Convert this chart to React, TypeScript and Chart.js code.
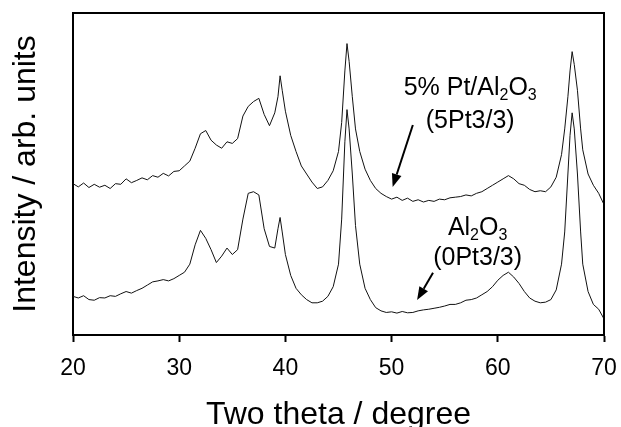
import React, { useEffect, useRef } from "react";
import { Chart, registerables } from "chart.js";

Chart.register(...registerables);

const twoTheta = [
  20, 20.5, 21, 21.5, 22, 22.5, 23, 23.5, 24, 24.5,
  25, 25.5, 26, 26.5, 27, 27.5, 28, 28.5, 29, 29.5,
  30, 30.5, 31, 31.5, 32, 32.5, 33, 33.5, 34, 34.5,
  35, 35.5, 36, 36.5, 37, 37.5, 38, 38.5, 39,
  39.3, 39.5, 39.7,
  40, 40.5, 41, 41.5, 42, 42.5, 43, 43.5, 44, 44.5, 45,
  45.3, 45.6, 45.8, 46.0, 46.3, 46.6,
  47, 47.5, 48, 48.5, 49, 49.5, 50, 50.5, 51, 51.5,
  52, 52.5, 53, 53.5, 54, 54.5, 55, 55.5, 56, 56.5,
  57, 57.5, 58, 58.5, 59, 59.5, 60, 60.5, 61, 61.5,
  62, 62.5, 63, 63.5, 64, 64.5, 65, 65.5, 66,
  66.3, 66.6, 66.8, 67.0, 67.2, 67.5, 67.8,
  68, 68.5, 69, 69.5, 70,
];

const pt5Al2O3 = [
  47.0, 46.0, 47.2, 45.8, 46.8, 45.9, 46.5, 45.5, 47.0, 46.8,
  48.5, 47.3, 48.0, 48.8, 48.2, 49.5, 49.0, 50.2, 49.4, 50.8,
  51.0, 52.5, 54.0, 58.0, 62.5, 63.5, 60.5, 59.0, 58.0, 60.0,
  59.5, 61.0, 68.0, 71.0, 72.5, 73.5, 68.5, 65.0, 69.0,
  74.0, 80.5, 76.0,
  69.5, 62.0, 57.0, 52.5, 50.0, 47.5, 45.5, 46.0, 48.0, 51.0, 57.0,
  66.0, 82.0, 90.5, 85.0, 74.0, 64.0,
  57.0, 51.5, 48.0, 45.5, 44.0, 43.0, 42.2, 42.8, 41.8, 42.5,
  41.5, 42.0, 41.3, 41.8, 41.5, 42.2, 42.0, 42.6, 42.8, 43.0,
  43.5, 43.2, 44.0, 44.5, 45.5, 46.5, 47.5, 48.5, 49.5, 48.5,
  47.0, 46.5, 45.2, 44.5, 44.8, 44.5, 46.0, 49.0, 56.0,
  64.0, 74.0, 82.0, 88.0, 84.0, 76.0, 64.0,
  57.5, 50.0, 46.5, 44.0, 40.5,
];

const al2O3 = [
  12.0, 11.5, 12.2, 11.0, 10.8, 11.6, 11.5, 12.2, 12.0, 12.8,
  13.5, 13.0, 13.8, 14.5, 15.5, 16.5, 16.8, 17.2, 16.8, 17.5,
  18.5, 19.5, 22.0, 28.0, 32.5, 30.0, 26.5, 22.5, 24.5, 27.0,
  25.0, 26.5, 36.0, 44.0, 44.5, 43.5, 33.0, 27.5, 27.0,
  33.0, 36.5, 32.0,
  25.0, 18.5, 14.5, 12.5, 11.0, 10.0, 10.0, 10.5, 12.0, 15.0, 22.0,
  36.0, 60.0, 70.0, 64.0, 50.0, 34.0,
  22.0, 14.5, 11.0, 8.5, 7.5, 7.0, 7.2, 6.8, 7.3, 6.9,
  7.0, 7.5, 7.8, 8.0, 8.3, 8.6, 9.0, 9.5, 9.5, 10.0,
  10.8, 11.0, 11.5, 12.5, 13.5, 15.0, 17.0, 18.5, 19.5, 18.0,
  16.0, 13.5, 11.5, 10.5, 10.0, 10.2, 11.0, 14.0, 22.0,
  32.0, 50.0, 62.0, 69.0, 64.0, 50.0, 32.0,
  22.0, 13.5, 9.5, 8.0, 5.0,
];

const xTicks = [20, 30, 40, 50, 60, 70];

// annotation text: segments [text, isSubscript]
const labelTexts: [string, boolean][][] = [
  [["5% Pt/Al", false], ["2", true], ["O", false], ["3", true]],
  [["(5Pt3/3)", false]],
  [["Al", false], ["2", true], ["O", false], ["3", true]],
  [["(0Pt3/3)", false]],
];
const labelX = [57.4, 57.4, 58.1, 58.1];
const labelY = [74.5, 64.3, 31.1, 21.7];

const arrowFromX = [52.0, 53.9];
const arrowFromY = [65.2, 19.3];
const arrowToX = [50.1, 52.4];
const arrowToY = [46.0, 10.9];

const FONT = "'Liberation Sans', Arial, Helvetica, sans-serif";

const annotationPlugin = {
  id: "annotations",
  afterDraw(chart: any) {
    const { ctx, chartArea, scales } = chart;
    const xs = scales.x;
    const ys = scales.y;
    ctx.save();
    // frame (top and right)
    ctx.strokeStyle = "#000";
    ctx.lineWidth = 2;
    ctx.beginPath();
    ctx.moveTo(chartArea.left - 1, chartArea.top);
    ctx.lineTo(chartArea.right, chartArea.top);
    ctx.lineTo(chartArea.right, chartArea.bottom + 1);
    ctx.stroke();

    // texts
    ctx.fillStyle = "#000";
    ctx.textBaseline = "alphabetic";
    ctx.textAlign = "left";
    const mainFont = `25px ${FONT}`;
    const subFont = `16px ${FONT}`;
    labelTexts.forEach((segs, i) => {
      let total = 0;
      segs.forEach(([t, sub]) => {
        ctx.font = sub ? subFont : mainFont;
        total += ctx.measureText(t).width;
      });
      let cx = xs.getPixelForValue(labelX[i]) - total / 2;
      const by = ys.getPixelForValue(labelY[i]);
      segs.forEach(([t, sub]) => {
        ctx.font = sub ? subFont : mainFont;
        ctx.fillText(t, cx, sub ? by + 5 : by);
        cx += ctx.measureText(t).width;
      });
    });

    // arrows
    ctx.lineWidth = 2;
    for (let i = 0; i < arrowFromX.length; i++) {
      const x1 = xs.getPixelForValue(arrowFromX[i]);
      const y1 = ys.getPixelForValue(arrowFromY[i]);
      const x2 = xs.getPixelForValue(arrowToX[i]);
      const y2 = ys.getPixelForValue(arrowToY[i]);
      const ang = Math.atan2(y2 - y1, x2 - x1);
      const head = 13;
      const half = 5;
      const bx = x2 - head * Math.cos(ang);
      const by = y2 - head * Math.sin(ang);
      ctx.beginPath();
      ctx.moveTo(x1, y1);
      ctx.lineTo(bx, by);
      ctx.stroke();
      ctx.beginPath();
      ctx.moveTo(x2, y2);
      ctx.lineTo(bx + half * Math.sin(ang), by - half * Math.cos(ang));
      ctx.lineTo(bx - half * Math.sin(ang), by + half * Math.cos(ang));
      ctx.closePath();
      ctx.fill();
    }
    ctx.restore();
  },
};

export default function App() {
  const ref = useRef<HTMLCanvasElement | null>(null);
  useEffect(() => {
    if (!ref.current) return;
    const chart = new Chart(ref.current, {
      type: "scatter",
      data: {
        datasets: [
          {
            label: "5% Pt/Al2O3 (5Pt3/3)",
            data: twoTheta.map((x, i) => ({ x, y: pt5Al2O3[i] })),
            showLine: true,
            borderColor: "#111",
            borderWidth: 1,
            pointRadius: 0,
            tension: 0,
          },
          {
            label: "Al2O3 (0Pt3/3)",
            data: twoTheta.map((x, i) => ({ x, y: al2O3[i] })),
            showLine: true,
            borderColor: "#111",
            borderWidth: 1,
            pointRadius: 0,
            tension: 0,
          },
        ],
      },
      options: {
        animation: false,
        responsive: false,
        devicePixelRatio: 1,
        layout: { padding: { top: 13, right: 17, left: 0, bottom: 0 } },
        plugins: {
          legend: { display: false },
          tooltip: { enabled: false },
        },
        scales: {
          x: {
            type: "linear",
            position: "bottom",
            min: 20,
            max: 70,
            afterBuildTicks: (scale: any) => {
              scale.ticks = xTicks.map((v) => ({ value: v }));
            },
            ticks: {
              color: "#000",
              font: { family: FONT, size: 23 },
              padding: 13,
              maxRotation: 0,
            },
            grid: {
              drawOnChartArea: false,
              drawTicks: true,
              tickLength: 7,
              tickWidth: 2,
              tickColor: "#000",
            },
            border: { display: true, color: "#000", width: 2 },
            title: {
              display: true,
              text: "Two theta / degree",
              color: "#000",
              font: { family: FONT, size: 32, lineHeight: 0.75 },
              padding: { top: 0, bottom: 0 },
            },
            afterFit: (scale: any) => {
              scale.height = 92;
              scale.paddingLeft = 0;
              scale.paddingRight = 0;
            },
          },
          y: {
            type: "linear",
            min: 0,
            max: 100,
            ticks: { display: false },
            grid: { display: false },
            border: { display: true, color: "#000", width: 2 },
            title: {
              display: true,
              text: "Intensity / arb. units",
              color: "#000",
              font: { family: FONT, size: 32, lineHeight: 0.75 },
              padding: { top: 14, bottom: 0 },
            },
            afterFit: (scale: any) => {
              scale.width = 73;
              scale.paddingTop = 0;
              scale.paddingBottom = 0;
            },
          },
        },
      },
      plugins: [annotationPlugin],
    });
    return () => chart.destroy();
  }, []);
  return (
    <div style={{ position: "absolute", left: 0, top: 0, width: 621, height: 427, background: "#fff" }}>
      <canvas ref={ref} width={621} height={427} style={{ display: "block" }} />
    </div>
  );
}
